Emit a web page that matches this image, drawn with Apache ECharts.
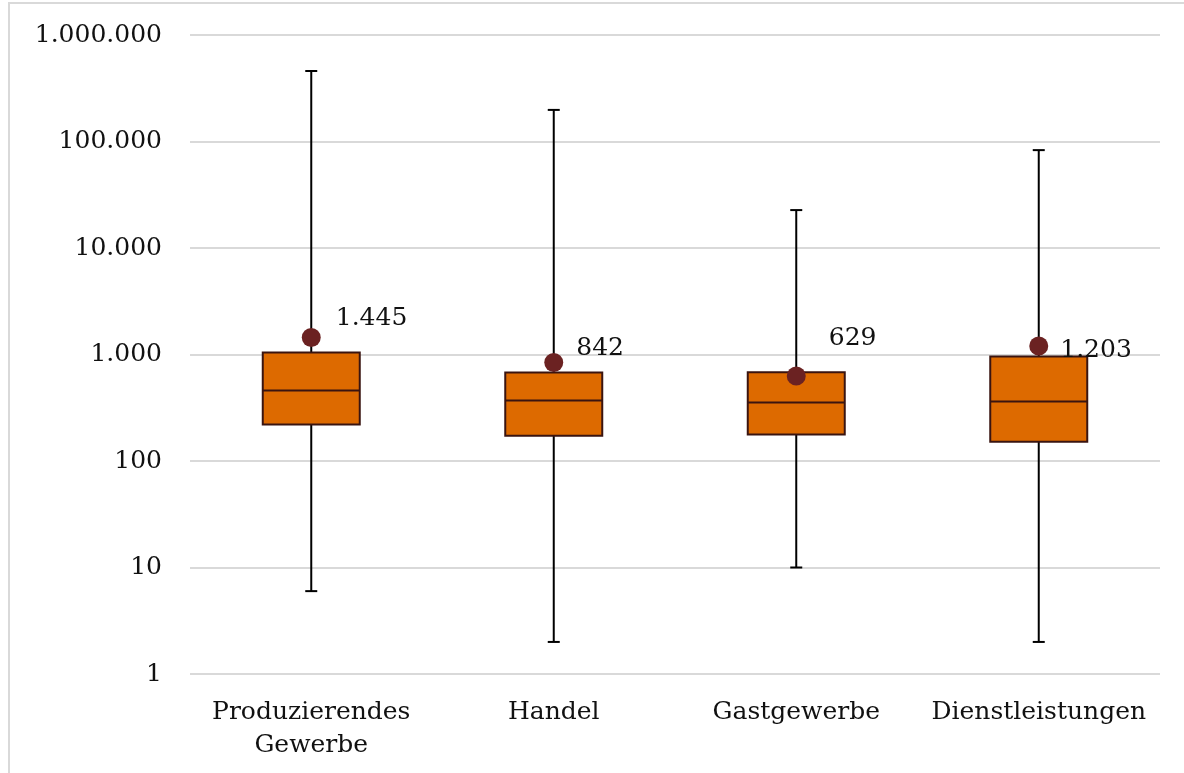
<!DOCTYPE html>
<html>
<head>
<meta charset="utf-8">
<script src="https://cdn.jsdelivr.net/npm/echarts@6/dist/echarts.min.js"></script>
<style>
  html, body { margin: 0; padding: 0; background: #ffffff; }
  #chart { width: 1184px; height: 773px; }
</style>
</head>
<body>
<div id="chart"></div>
<script>
// Sectors on the category axis
const categories = ['Produzierendes\nGewerbe', 'Handel', 'Gastgewerbe', 'Dienstleistungen'];
// Five-number summaries per sector
const whiskerLow  = [6, 2, 10, 2];
const quartile1   = [220, 173, 177, 152];
const medians     = [459, 370, 354, 362];
const quartile3   = [1045, 678, 680, 958];
const whiskerHigh = [459000, 198000, 22700, 83000];
// Arithmetic means (shown as dots with labels)
const means = [1445, 842, 629, 1203];
// Log axis tick values
const yTicks = [1, 10, 100, 1000, 10000, 100000, 1000000];

const FONT = '"DejaVu Serif", "Liberation Serif", serif';

function fmtDE(v) {
  return String(Math.round(v)).replace(/\B(?=(\d{3})+(?!\d))/g, '.');
}

const boxData = categories.map((c, i) => [i, whiskerLow[i], quartile1[i], medians[i], quartile3[i], whiskerHigh[i]]);

// Per-label placement of the mean annotations
const meanLabelOffsets = [[15, -19], [13, -14], [23, -37], [12, 5]];

const chart = echarts.init(document.getElementById('chart'), null, { renderer: 'canvas' });

chart.setOption({
  backgroundColor: '#ffffff',
  animation: false,
  grid: { left: 190, right: 24, top: 35, bottom: 99, containLabel: false },
  xAxis: {
    type: 'category',
    data: categories,
    boundaryGap: true,
    axisLine: { show: false },
    axisTick: { show: false },
    axisLabel: {
      color: '#111111', fontFamily: FONT, fontSize: 25, lineHeight: 33,
      margin: 22, interval: 0
    },
    splitLine: { show: false }
  },
  yAxis: {
    type: 'log',
    logBase: 10,
    min: yTicks[0],
    max: yTicks[yTicks.length - 1],
    axisLine: { show: false },
    axisTick: { show: false },
    axisLabel: {
      color: '#111111', fontFamily: FONT, fontSize: 25, margin: 28,
      formatter: (v) => fmtDE(v)
    },
    splitLine: { show: true, lineStyle: { color: '#d9d9d9', width: 2 } }
  },
  graphic: [
    {
      type: 'rect', silent: true, z: -1,
      shape: { x: 9, y: 3, width: 1300, height: 900 },
      style: { fill: 'none', stroke: '#d9d9d9', lineWidth: 2 }
    }
  ],
  series: [
    {
      type: 'custom',
      data: boxData,
      encode: { x: 0, y: [1, 2, 3, 4, 5] },
      renderItem: function (params, api) {
        const idx = api.value(0);
        const lo = api.coord([idx, api.value(1)]);
        const q1 = api.coord([idx, api.value(2)]);
        const md = api.coord([idx, api.value(3)]);
        const q3 = api.coord([idx, api.value(4)]);
        const hi = api.coord([idx, api.value(5)]);
        const bw = api.size([1, 0])[0] * 0.4;
        const cx = lo[0];
        const cap = 6;
        const lineStyle = { stroke: '#000000', lineWidth: 2 };
        return {
          type: 'group',
          children: [
            { type: 'line', shape: { x1: cx, y1: hi[1], x2: cx, y2: lo[1] }, style: lineStyle },
            { type: 'line', shape: { x1: cx - cap, y1: hi[1], x2: cx + cap, y2: hi[1] }, style: lineStyle },
            { type: 'line', shape: { x1: cx - cap, y1: lo[1], x2: cx + cap, y2: lo[1] }, style: lineStyle },
            {
              type: 'rect',
              shape: { x: cx - bw / 2, y: q3[1], width: bw, height: q1[1] - q3[1] },
              style: { fill: '#dd6a00', stroke: '#3a1410', lineWidth: 2 }
            },
            {
              type: 'line',
              shape: { x1: cx - bw / 2, y1: md[1], x2: cx + bw / 2, y2: md[1] },
              style: { stroke: '#3a1410', lineWidth: 2 }
            }
          ]
        };
      },
      z: 2
    },
    {
      type: 'scatter',
      data: means.map((m, i) => ({
        value: [i, m],
        label: { offset: meanLabelOffsets[i] }
      })),
      symbol: 'circle',
      symbolSize: 19,
      itemStyle: { color: '#6b2222', opacity: 1 },
      label: {
        show: true,
        position: 'right',
        distance: 0,
        color: '#111111',
        fontFamily: FONT,
        fontSize: 25,
        formatter: (p) => fmtDE(p.value[1])
      },
      z: 3
    }
  ]
});
</script>
</body>
</html>
